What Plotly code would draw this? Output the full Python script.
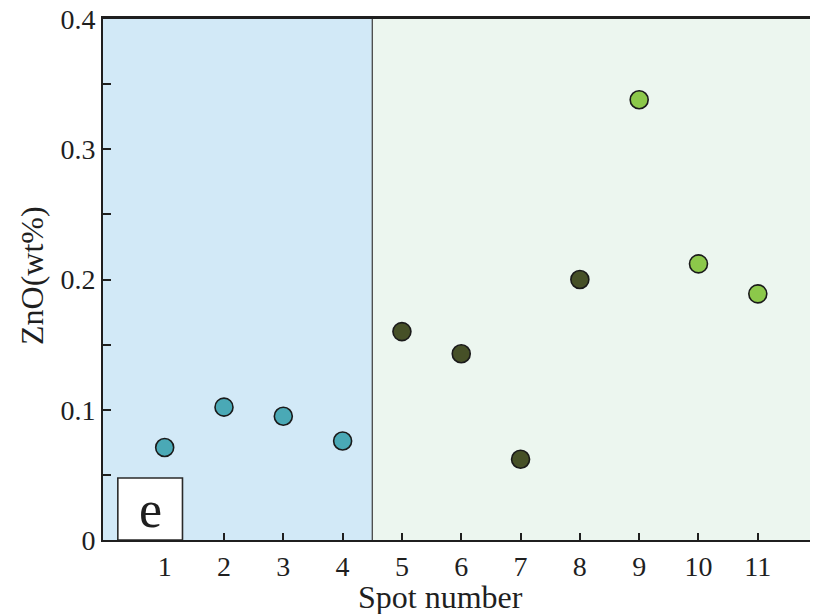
import plotly.graph_objects as go

# ---- data ----
spots_a = [1, 2, 3, 4]
zno_a = [0.071, 0.102, 0.095, 0.076]
spots_b = [5, 6, 7, 8]
zno_b = [0.160, 0.143, 0.062, 0.200]
spots_c = [9, 10, 11]
zno_c = [0.338, 0.212, 0.189]

x_ticks = [1, 2, 3, 4, 5, 6, 7, 8, 9, 10, 11]
y_ticks = [0, 0.1, 0.2, 0.3, 0.4]
y_ticktext = ["0", "0.1", "0.2", "0.3", "0.4"]

boundary = 4.5
x_range = [-0.04, 11.88]
y_range = [0, 0.4]

FONT = "Liberation Serif"
DARK = "#1f1f1f"

fig = go.Figure()

marker_line = dict(color="#1a1a1a", width=1.6)
fig.add_trace(go.Scatter(x=spots_a, y=zno_a, mode="markers",
                         marker=dict(size=18, color="#4aa9b6", line=marker_line),
                         showlegend=False))
fig.add_trace(go.Scatter(x=spots_b, y=zno_b, mode="markers",
                         marker=dict(size=18, color="#465027", line=marker_line),
                         showlegend=False))
fig.add_trace(go.Scatter(x=spots_c, y=zno_c, mode="markers",
                         marker=dict(size=18, color="#8cc84a", line=marker_line),
                         showlegend=False))

# dummy trace for top axis line
fig.add_trace(go.Scatter(x=[None], y=[None], xaxis="x2", showlegend=False))

shapes = [
    dict(type="rect", xref="x", yref="y", x0=x_range[0], x1=boundary, y0=0, y1=0.4,
         fillcolor="#d2e9f7", line=dict(width=0), layer="below"),
    dict(type="rect", xref="x", yref="y", x0=boundary, x1=x_range[1], y0=0, y1=0.4,
         fillcolor="#ecf6ef", line=dict(width=0), layer="below"),
    dict(type="line", xref="x", yref="y", x0=boundary, x1=boundary, y0=0, y1=0.4,
         line=dict(color="#3a3a3a", width=1.2), layer="above"),
    dict(type="line", xref="paper", yref="paper", x0=0.9975, x1=0.9975, y0=0, y1=1,
         line=dict(color="#d8e2da", width=1), layer="below"),
    dict(type="rect", xref="x", yref="y", x0=0.21, x1=1.30, y0=0, y1=0.0476,
         fillcolor="white", line=dict(color="#2a2a2a", width=1.6), layer="above"),
]

annotations = [
    dict(text="e", x=0.755, y=0.0235, xref="x", yref="y", showarrow=False,
         font=dict(family=FONT, size=52, color=DARK), xanchor="center", yanchor="middle"),
    dict(text="Spot number", x=(440 - 103) / 707, y=(540 - 597) / 521,
         xref="paper", yref="paper", showarrow=False,
         font=dict(family=FONT, size=32, color=DARK), xanchor="center", yanchor="middle"),
    dict(text="ZnO(wt%)", x=(32 - 103) / 707, y=(540 - 276) / 521,
         xref="paper", yref="paper", showarrow=False, textangle=-90,
         font=dict(family=FONT, size=32, color=DARK), xanchor="center", yanchor="middle"),
]

fig.update_layout(
    width=814, height=614,
    margin=dict(l=103, r=4, t=19, b=74, autoexpand=False),
    paper_bgcolor="white", plot_bgcolor="white",
    shapes=shapes, annotations=annotations,
    font=dict(family=FONT, color=DARK),
    xaxis=dict(range=x_range, tickvals=x_ticks, ticks="inside", ticklen=7,
               tickwidth=1.5, tickcolor=DARK, showgrid=False, zeroline=False,
               showline=True, linecolor=DARK, linewidth=2, automargin=False,
               tickfont=dict(family=FONT, size=28, color=DARK)),
    xaxis2=dict(range=x_range, overlaying="x", side="top", tickvals=x_ticks,
                ticks="", showticklabels=False, showgrid=False, zeroline=False,
                showline=True, linecolor=DARK, linewidth=2.5, automargin=False),
    yaxis=dict(range=y_range, tickvals=y_ticks, ticktext=y_ticktext,
               ticks="inside", ticklen=8, tickwidth=1.5, tickcolor=DARK,
               showgrid=False, zeroline=False, showline=True, linecolor=DARK,
               linewidth=2, automargin=False,
               tickfont=dict(family=FONT, size=28, color=DARK),
               minor=dict(dtick=0.05, tick0=0, ticks="inside", ticklen=8,
                          tickwidth=1.5, tickcolor=DARK, showgrid=False)),
)

fig.write_html("out.html")
